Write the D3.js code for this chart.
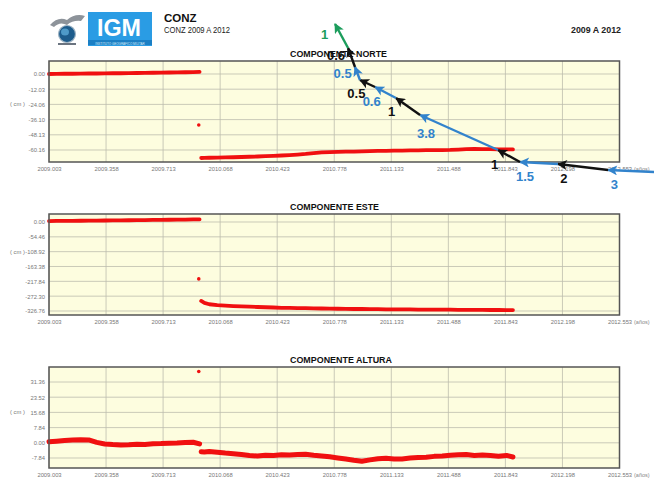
<!DOCTYPE html>
<html>
<head>
<meta charset="utf-8">
<script src="https://cdn.jsdelivr.net/npm/d3@7/dist/d3.min.js"></script>
<style>
  body { margin: 0; background: #fff; }
  svg { display: block; font-family: 'Liberation Sans', Arial, sans-serif; }
</style>
</head>
<body>
<svg id="chart" width="654" height="482"></svg>
<script>
// decimal-year sample times, before and after the jump
var tPre = [2009.003, 2009.05, 2009.10, 2009.15, 2009.20, 2009.25, 2009.30, 2009.35, 2009.40, 2009.45,
  2009.50, 2009.55, 2009.60, 2009.65, 2009.70, 2009.75, 2009.80, 2009.85, 2009.90, 2009.94];
var tPost = [2009.95, 2009.97, 2010.00, 2010.05, 2010.10, 2010.15, 2010.20, 2010.25, 2010.30, 2010.35,
  2010.40, 2010.45, 2010.50, 2010.55, 2010.60, 2010.65, 2010.70, 2010.75, 2010.80, 2010.85,
  2010.90, 2010.95, 2011.00, 2011.05, 2011.10, 2011.15, 2011.20, 2011.25, 2011.30, 2011.35,
  2011.40, 2011.45, 2011.50, 2011.55, 2011.60, 2011.65, 2011.70, 2011.75, 2011.80, 2011.85, 2011.89];
var tOutlier = 2009.935;

// cm
var nortePre = [0.0, 0.1, 0.2, 0.2, 0.3, 0.4, 0.4, 0.5, 0.6, 0.6, 0.7, 0.8, 0.9, 1.0, 1.1, 1.2, 1.3, 1.4, 1.5, 1.7];
var nortePost = [-66.5, -66.4, -66.3, -66.2, -66.0, -65.9, -65.7, -65.5, -65.3, -65.0,
  -64.8, -64.5, -64.2, -63.8, -63.3, -62.6, -62.0, -61.8, -61.7, -61.5,
  -61.4, -61.2, -61.0, -60.9, -60.8, -60.7, -60.6, -60.5, -60.4, -60.3,
  -60.3, -60.2, -60.1, -59.8, -59.5, -59.3, -59.4, -59.5, -59.6, -59.6, -59.7];
var norteOutlier = -40.4;

var estePre = [3.5, 3.8, 4.0, 4.3, 4.5, 4.9, 5.2, 5.5, 5.8, 6.2, 6.5, 6.8, 7.2, 7.5, 7.9, 8.2, 8.6, 9.0, 9.4, 9.8];
var estePost = [-290, -297, -302, -305, -307, -308.5, -310, -311, -312, -313,
  -314, -315, -315.5, -316, -316.5, -317, -317.5, -318, -318.5, -319,
  -319.5, -319.5, -320, -320, -320.5, -320.5, -321, -321, -321.5, -321.5,
  -322, -322, -322, -322.5, -322.5, -322.5, -323, -323, -323, -323.5, -323.5];
var esteOutlier = -209;

var alturaPre = [0.5, 0.8, 1.2, 1.4, 1.6, 1.5, 0.2, -0.6, -0.9, -1.1, -1.0, -0.7, -0.9, -0.5, -0.4, -0.2, -0.1, 0.2, 0.3, -0.6];
var alturaPost = [-4.6, -4.8, -4.5, -4.9, -5.3, -5.6, -6.0, -6.6, -6.8, -6.4,
  -6.6, -6.2, -6.3, -6.0, -5.9, -6.4, -6.8, -7.2, -7.8, -8.4,
  -9.0, -9.5, -8.8, -8.2, -8.0, -8.4, -8.3, -7.9, -7.6, -7.4,
  -7.0, -6.8, -6.4, -6.2, -6.0, -6.5, -6.3, -6.6, -6.9, -6.5, -7.3];
var alturaOutlier = 36.8;

var xTicks = [2009.003, 2009.358, 2009.713, 2010.068, 2010.423, 2010.778, 2011.133, 2011.488, 2011.843, 2012.198, 2012.553];
var norteTicks = [0, -12.03, -24.06, -36.10, -48.13, -60.16];
var esteTicks = [0, -54.46, -108.92, -163.38, -217.84, -272.30, -326.76];
var alturaTicks = [31.36, 23.52, 15.68, 7.84, 0, -7.84];

// annotation arrows drawn over the north panel, in its [year, cm] units
var arrowPts = [[2012.768, -77.57], [2012.482, -75.99], [2012.170, -71.24], [2011.934, -69.66],
  [2011.797, -60.16], [2011.312, -32.45], [2011.162, -19.0], [2011.032, -10.29],
  [2010.938, -4.75], [2010.907, 5.54], [2010.864, 20.58], [2010.783, 39.58]];
var arrowLabels = ['3', '2', '1.5', '1', '3.8', '1', '0.6', '0.5', '0.5', '0.6', '1'];
var arrowKinds = ['blue', 'black', 'blue', 'black', 'blue', 'black', 'blue', 'black', 'blue', 'black', 'green'];

var arrowColor = { blue: '#3283cc', black: '#111', green: '#1c9d5c' };
var red = '#f01010';

var svg = d3.select('#chart');
var left = 49, right = 619.5, plotH = 101;
var fmt = d3.formatLocale({ decimal: '.', thousands: ',', grouping: [3], currency: ['', ''], minus: '-' });
var fmtY = fmt.format('.2f'), fmtX = fmt.format('.3f');

var x = d3.scaleLinear().domain([2009.003, 2012.553]).range([left, right]);

var panels = [
  { title: 'COMPONENTE NORTE', titleW: 97, top: 61, domain: [-69.66, 10.29], ticks: norteTicks,
    pre: nortePre, post: nortePost, out: norteOutlier, lw: 3.8 },
  { title: 'COMPONENTE ESTE', titleW: 89, top: 214, domain: [-341.45, 29.37], ticks: esteTicks,
    pre: estePre, post: estePost, out: esteOutlier, lw: 3.8 },
  { title: 'COMPONENTE ALTURA', titleW: 102, top: 367, domain: [-13.0, 39.1], ticks: alturaTicks,
    pre: alturaPre, post: alturaPost, out: alturaOutlier, lw: 5 }
];

// ---- header
var logo = svg.append('g');
logo.append('path')
  .attr('d', 'M50,25 Q58,16 67,20 Q75,13 85,16 L81,21 Q73,20 67,25 Q60,21 54,27 Z')
  .attr('fill', '#8d939a');
logo.append('circle').attr('cx', 67).attr('cy', 34).attr('r', 8.5)
  .attr('fill', '#1d5c8c').attr('stroke', '#9fb4c4').attr('stroke-width', 1.2);
logo.append('ellipse').attr('cx', 65).attr('cy', 32).attr('rx', 4).attr('ry', 3.5).attr('fill', '#4f9ac8');
logo.append('rect').attr('x', 58).attr('y', 43).attr('width', 18).attr('height', 2).attr('fill', '#6b7480');
logo.append('rect').attr('x', 88).attr('y', 12).attr('width', 64).attr('height', 34).attr('fill', '#2a9ce4');
logo.append('rect').attr('x', 88).attr('y', 40).attr('width', 64).attr('height', 5).attr('fill', '#1b7fc4');
logo.append('text').attr('x', 119).attr('y', 35.5).attr('text-anchor', 'middle')
  .attr('fill', '#fff').attr('font-weight', 'bold').attr('font-size', 24)
  .attr('textLength', 44).attr('lengthAdjust', 'spacingAndGlyphs').text('IGM');
logo.append('text').attr('x', 120).attr('y', 44.6).attr('text-anchor', 'middle')
  .attr('fill', '#d8ecf9').attr('font-size', 3).text('INSTITUTO GEOGRÁFICO MILITAR');

svg.append('text').attr('x', 164).attr('y', 22).attr('font-weight', 'bold').attr('font-size', 11.5)
  .attr('fill', '#111').text('CONZ');
svg.append('text').attr('x', 164).attr('y', 33).attr('font-size', 8.5).attr('fill', '#222')
  .attr('textLength', 66).attr('lengthAdjust', 'spacingAndGlyphs').text('CONZ 2009 A 2012');
svg.append('text').attr('x', 621).attr('y', 33).attr('text-anchor', 'end').attr('font-size', 8.5)
  .attr('font-weight', 'bold').attr('fill', '#222')
  .attr('textLength', 50).attr('lengthAdjust', 'spacingAndGlyphs').text('2009 A 2012');

// ---- panels
var line = d3.line().x(function(d) { return x(d[0]); });

panels.forEach(function(p) {
  var y = d3.scaleLinear().domain(p.domain).range([p.top + plotH, p.top]);
  p.y = y;
  var g = svg.append('g');

  g.append('rect').attr('x', left).attr('y', p.top).attr('width', right - left).attr('height', plotH)
    .attr('fill', '#fdfddf');

  g.selectAll('line.hg').data(p.ticks).enter().append('line').attr('class', 'hg')
    .attr('x1', left).attr('x2', right)
    .attr('y1', function(d) { return y(d); }).attr('y2', function(d) { return y(d); })
    .attr('stroke', '#bdbdad').attr('stroke-width', 0.8);
  g.selectAll('line.vg').data(xTicks).enter().append('line').attr('class', 'vg')
    .attr('x1', function(d) { return x(d); }).attr('x2', function(d) { return x(d); })
    .attr('y1', p.top).attr('y2', p.top + plotH)
    .attr('stroke', '#bdbdad').attr('stroke-width', 0.8);

  var ya = g.append('g').attr('transform', 'translate(' + left + ',0)')
    .call(d3.axisLeft(y).tickValues(p.ticks).tickFormat(fmtY).tickSize(0).tickPadding(4));
  var xa = g.append('g').attr('transform', 'translate(0,' + (p.top + plotH) + ')')
    .call(d3.axisBottom(x).tickValues(xTicks).tickFormat(fmtX).tickSize(0).tickPadding(5));
  [ya, xa].forEach(function(a) {
    a.select('.domain').remove();
    a.attr('font-family', null).attr('font-size', null);
    a.selectAll('text').attr('fill', '#777').style('font-size', '5.8px');
  });

  g.append('text').attr('x', 10).attr('y', y(p.ticks[2]) + 2).attr('fill', '#777')
    .style('font-size', '5.8px').text('( cm )');
  g.append('text').attr('x', 634).attr('y', p.top + plotH + 9).attr('fill', '#888')
    .style('font-size', '5.5px').text('(años)');

  line.y(function(d) { return y(d[1]); });
  [d3.zip(tPre, p.pre), d3.zip(tPost, p.post)].forEach(function(seg) {
    g.append('path').attr('d', line(seg)).attr('fill', 'none').attr('stroke', red)
      .attr('stroke-width', p.lw).attr('stroke-linecap', 'round').attr('stroke-linejoin', 'round');
  });
  g.append('circle').attr('cx', x(tOutlier)).attr('cy', y(p.out)).attr('r', 1.8).attr('fill', red);

  g.append('rect').attr('x', left).attr('y', p.top).attr('width', right - left).attr('height', plotH)
    .attr('fill', 'none').attr('stroke', '#555').attr('stroke-width', 1.5);

  g.append('text').attr('x', 290).attr('y', p.top - 4).attr('font-weight', 'bold')
    .attr('font-size', 9.5).attr('fill', '#111')
    .attr('textLength', p.titleW).attr('lengthAdjust', 'spacingAndGlyphs').text(p.title);
});

// ---- arrows
var ny = panels[0].y;
var defs = svg.append('defs');
Object.keys(arrowColor).forEach(function(k) {
  defs.append('marker').attr('id', 'ah-' + k).attr('viewBox', '0 0 10 10')
    .attr('refX', 9).attr('refY', 5).attr('markerWidth', 11).attr('markerHeight', 10)
    .attr('markerUnits', 'userSpaceOnUse').attr('orient', 'auto')
    .append('path').attr('d', 'M0,0L10,5L0,10L2.5,5Z').attr('fill', arrowColor[k]);
});

var segs = d3.pairs(arrowPts).map(function(pr, i) {
  return { a: pr[0], b: pr[1], label: arrowLabels[i], kind: arrowKinds[i] };
});

var ag = svg.append('g');
ag.selectAll('line').data(segs).enter().append('line')
  .attr('x1', function(d) { return x(d.a[0]); }).attr('y1', function(d) { return ny(d.a[1]); })
  .attr('x2', function(d) { return x(d.b[0]); }).attr('y2', function(d) { return ny(d.b[1]); })
  .attr('stroke', function(d) { return arrowColor[d.kind]; }).attr('stroke-width', 2.4)
  .attr('marker-end', function(d) { return 'url(#ah-' + d.kind + ')'; });

ag.selectAll('text').data(segs).enter().append('text')
  .each(function(d) {
    var x1 = x(d.a[0]), y1 = ny(d.a[1]), x2 = x(d.b[0]), y2 = ny(d.b[1]);
    var len = Math.hypot(x2 - x1, y2 - y1), dx = (x2 - x1) / len, dy = (y2 - y1) / len;
    var px = x1 + (x2 - x1) * 0.85 + dy * 14, py = y1 + (y2 - y1) * 0.85 - dx * 14;
    d3.select(this).attr('x', px).attr('y', py + 4.5);
  })
  .attr('text-anchor', 'middle').attr('font-size', 13).attr('font-weight', 'bold')
  .attr('fill', function(d) { return arrowColor[d.kind]; })
  .text(function(d) { return d.label; });
</script>
</body>
</html>
